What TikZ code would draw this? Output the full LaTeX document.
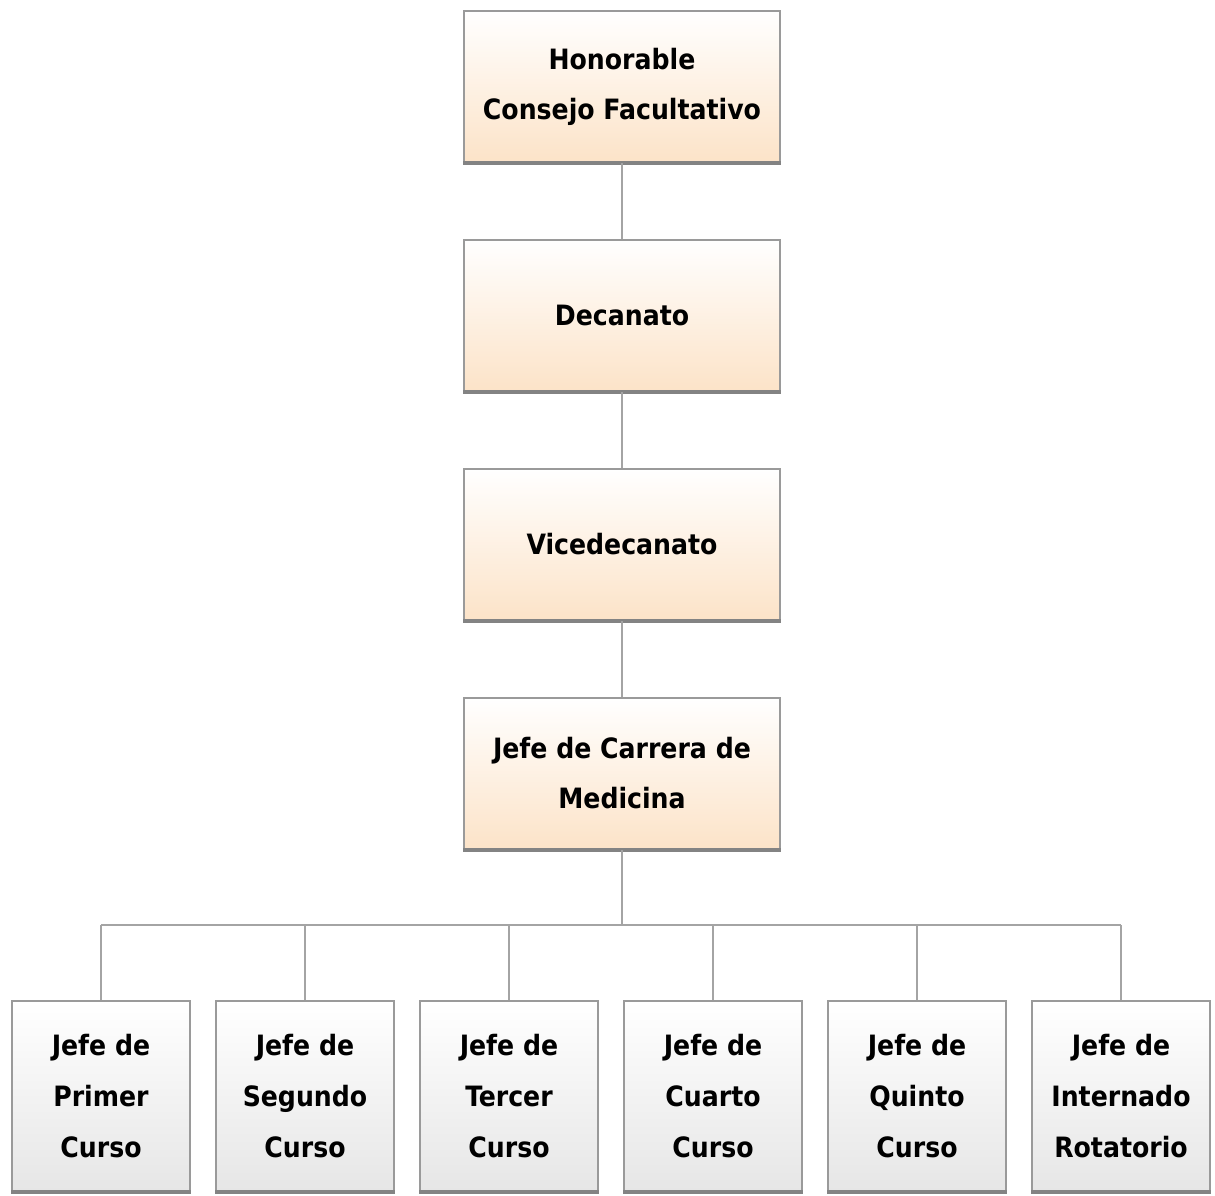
\documentclass[tikz,border=0pt]{standalone}
\usepackage{fontspec}
\setmainfont{DejaVu Sans Condensed}
\usetikzlibrary{positioning,calc}

\definecolor{peach}{HTML}{FCE3C8}
\definecolor{pale}{HTML}{E6E6E6}
\definecolor{rim}{HTML}{9A9A9A}

\tikzset{
  cargo/.style={draw=rim, line width=1pt, top color=white, bottom color=peach,
    minimum width=158pt, minimum height=75.5pt, align=center,
    font=\fontsize{14}{25}\selectfont\bfseries, inner sep=2pt},
  curso/.style={draw=rim, line width=1pt, top color=white, bottom color=pale,
    minimum width=89pt, minimum height=95pt, align=center,
    font=\fontsize{14}{25.5}\selectfont\bfseries, inner sep=2pt},
  enlace/.style={draw=rim!90, line width=1.4pt},
  sombra/.style={draw=rim!85!black, line width=2pt}
}

\begin{document}
\begin{tikzpicture}
    % Fix the page size to the reference
    \useasboundingbox (0,0) rectangle (607.5pt,-597.5pt);

    % Top chain
    \node[cargo] (consejo) at (311pt,-43.25pt) {Honorable\\Consejo Facultativo};
    \node[cargo, below=38pt of consejo] (decanato) {Decanato};
    \node[cargo, below=38pt of decanato] (vice) {Vicedecanato};
    \node[cargo, below=38pt of vice] (jefe) {Jefe de Carrera de\\Medicina};

    % Bottom row
    \node[curso] (c1) at (50.5pt,-548pt) {Jefe de\\Primer\\Curso};
    \node[curso, right=12pt of c1] (c2) {Jefe de\\Segundo\\Curso};
    \node[curso, right=12pt of c2] (c3) {Jefe de\\Tercer\\Curso};
    \node[curso, right=12pt of c3] (c4) {Jefe de\\Cuarto\\Curso};
    \node[curso, right=12pt of c4] (c5) {Jefe de\\Quinto\\Curso};
    \node[curso, right=12pt of c5] (c6) {Jefe de\\Internado\\Rotatorio};

    % Darker bottom edges
    \foreach \n in {consejo,decanato,vice,jefe,c1,c2,c3,c4,c5,c6}
        \draw[sombra] (\n.south west) -- (\n.south east);

    % Connectors
    \draw[enlace] (consejo) -- (decanato);
    \draw[enlace] (decanato) -- (vice);
    \draw[enlace] (vice) -- (jefe);
    \coordinate (bus) at ($(jefe.south)!0.5!(c1.north)$);
    \draw[enlace] (jefe.south) -- (jefe.south |- bus);
    \draw[enlace] (c1.north |- bus) -- (c6.north |- bus);
    \foreach \n in {c1,c2,c3,c4,c5,c6}
        \draw[enlace] (\n.north |- bus) -- (\n.north);
\end{tikzpicture}
\end{document}
